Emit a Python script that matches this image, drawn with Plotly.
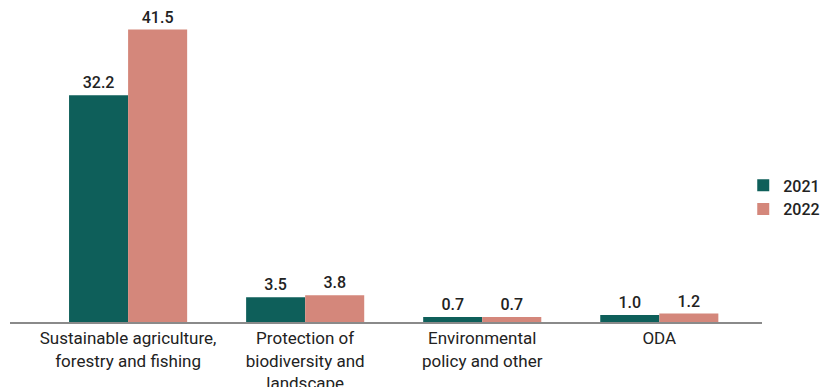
import plotly.graph_objects as go

categories = [
    "Sustainable agriculture,<br>forestry and fishing",
    "Protection of<br>biodiversity and<br>landscape",
    "Environmental<br>policy and other",
    "ODA",
]
values_2021 = [32.2, 3.5, 0.7, 1.0]
values_2022 = [41.5, 3.8, 0.7, 1.2]

color_2021 = "#0e5f5a"
color_2022 = "#d4877b"
font_family = "Roboto, Arial, sans-serif"

fig = go.Figure()
for name, vals, col in [("2021", values_2021, color_2021), ("2022", values_2022, color_2022)]:
    fig.add_trace(go.Bar(
        name=name,
        x=categories,
        y=vals,
        marker=dict(color=col, line=dict(width=0)),
        text=[f"{v:.1f}" for v in vals],
        textposition="outside",
        textfont=dict(family=font_family, size=16, color="#222222", weight=500),
        cliponaxis=False,
    ))

fig.update_layout(
    width=824,
    height=387,
    margin=dict(l=10, r=62, t=12, b=65, autoexpand=False),
    paper_bgcolor="white",
    plot_bgcolor="white",
    barmode="group",
    bargap=0.333,
    bargroupgap=0,
    font=dict(family=font_family, size=16, color="#222222"),
    legend=dict(
        xref="container", yref="container",
        x=0.902, y=0.49, xanchor="left", yanchor="middle",
        font=dict(family=font_family, size=16, color="#222222", weight=500),
        itemwidth=30, tracegroupgap=0,
        bgcolor="rgba(0,0,0,0)",
    ),
    xaxis=dict(
        range=[-0.667, 3.58],
        automargin=False,
        showline=True, linecolor="#8a8a8a", linewidth=2,
        showgrid=False, ticks="",
        tickfont=dict(family=font_family, size=17, color="#222222"),
    ),
    yaxis=dict(
        range=[0, 44],
        visible=False,
        automargin=False,
        showgrid=False,
        zeroline=False,
    ),
)

fig.write_html("out.html")
